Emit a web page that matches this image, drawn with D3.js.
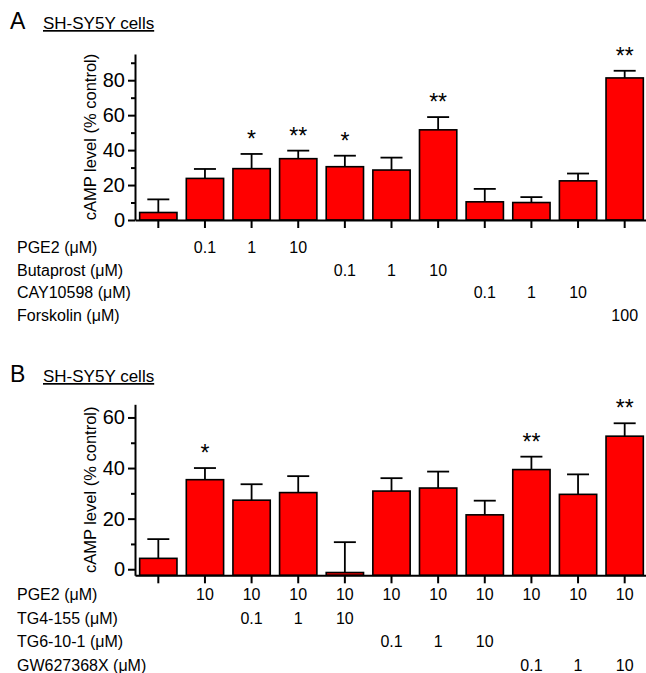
<!DOCTYPE html>
<html>
<head>
<meta charset="utf-8">
<script src="https://cdn.jsdelivr.net/npm/d3@7"></script>
<style>
  body { margin: 0; background: #fff; }
  svg { display: block; font-family: Arial, "Liberation Sans", sans-serif; }
  .axis path, .axis line { stroke: #000; stroke-width: 2; }
  .axis text { font-size: 20px; fill: #000; }
</style>
</head>
<body>
<svg id="chart" width="646" height="673"></svg>
<script>
// panel A
const drugsA = ['PGE2 (\u03bcM)', 'Butaprost (\u03bcM)', 'CAY10598 (\u03bcM)', 'Forskolin (\u03bcM)'];
const dosesA = [
  ['', '0.1', '1', '10', '', '', '', '', '', '', ''],
  ['', '', '', '', '0.1', '1', '10', '', '', '', ''],
  ['', '', '', '', '', '', '', '0.1', '1', '10', ''],
  ['', '', '', '', '', '', '', '', '', '', '100'],
];
const valuesA = [4.3, 23.8, 29.4, 35.1, 30.5, 28.6, 51.6, 10.4, 10.0, 22.4, 81.3];
const errorsA = [7.5, 5.4, 8.4, 4.6, 6.3, 7.1, 7.3, 7.4, 3.1, 4.2, 4.1];
const starsA = ['', '', '*', '**', '*', '', '**', '', '', '', '**'];
const ticksA = [0, 20, 40, 60, 80];
const minorA = [10, 30, 50, 70, 90];

// panel B
const drugsB = ['PGE2 (\u03bcM)', 'TG4-155 (\u03bcM)', 'TG6-10-1 (\u03bcM)', 'GW627368X (\u03bcM)'];
const dosesB = [
  ['', '10', '10', '10', '10', '10', '10', '10', '10', '10', '10'],
  ['', '', '0.1', '1', '10', '', '', '', '', '', ''],
  ['', '', '', '', '', '0.1', '1', '10', '', '', ''],
  ['', '', '', '', '', '', '', '', '0.1', '1', '10'],
];
const valuesB = [4.3, 35.4, 27.3, 30.3, -1.3, 30.9, 32.1, 21.5, 39.4, 29.6, 52.6];
const errorsB = [7.6, 4.6, 6.3, 6.5, 12.0, 5.1, 6.5, 5.6, 5.1, 7.9, 5.1];
const starsB = ['', '*', '', '', '', '', '', '', '**', '', '**'];
const ticksB = [0, 20, 40, 60];
const minorB = [10, 30, 50];

const svg = d3.select('#chart');

function drawPanel(p) {
  const data = p.values.map((v, i) => ({ i, v, e: p.errors[i], s: p.stars[i] }));

  const x = d3.scaleBand()
    .domain(data.map(d => d.i))
    .range([135, 648])
    .paddingInner(0.2)
    .paddingOuter(0.1);

  const y = d3.scaleLinear().domain(p.domain).range(p.range);
  const base = p.domain[0];

  // panel letter + underlined title
  svg.append('text')
    .attr('x', 10).attr('y', p.titleY)
    .style('font-size', '23px')
    .text(p.letter);
  svg.append('text')
    .attr('x', 43).attr('y', p.titleY)
    .style('font-size', '17px')
    .style('text-decoration', 'underline')
    .text('SH-SY5Y cells');

  const g = svg.append('g');

  // bars
  g.selectAll('.bar')
    .data(data)
    .enter()
    .append('rect')
    .attr('class', 'bar')
    .attr('x', d => x(d.i))
    .attr('width', x.bandwidth())
    .attr('y', d => y(Math.max(d.v, base)))
    .attr('height', d => Math.abs(y(base) - y(d.v)))
    .attr('fill', '#ff0000')
    .attr('stroke', '#000')
    .attr('stroke-width', 1.6);

  // error bars (upper only)
  const cx = d => x(d.i) + x.bandwidth() / 2;
  g.selectAll('.err')
    .data(data)
    .enter()
    .append('line')
    .attr('x1', cx).attr('x2', cx)
    .attr('y1', d => y(d.v)).attr('y2', d => y(d.v + d.e))
    .attr('stroke', '#000').attr('stroke-width', 1.8);
  g.selectAll('.cap')
    .data(data)
    .enter()
    .append('line')
    .attr('x1', d => cx(d) - 11).attr('x2', d => cx(d) + 11)
    .attr('y1', d => y(d.v + d.e)).attr('y2', d => y(d.v + d.e))
    .attr('stroke', '#000').attr('stroke-width', 1.8);

  // significance stars
  g.selectAll('.star')
    .data(data.filter(d => d.s))
    .enter()
    .append('text')
    .attr('x', cx)
    .attr('y', d => y(d.v + d.e) - 7)
    .attr('text-anchor', 'middle')
    .style('font-size', '23px')
    .text(d => d.s);

  // axes
  g.append('g')
    .attr('class', 'axis')
    .attr('transform', 'translate(0,' + y(base) + ')')
    .call(d3.axisBottom(x).tickSize(8).tickSizeOuter(0).tickFormat(''));

  g.append('g')
    .attr('class', 'axis')
    .attr('transform', 'translate(135,0)')
    .call(d3.axisLeft(y).tickValues(p.ticks).tickSize(7).tickSizeOuter(0).tickPadding(3));

  g.append('g')
    .attr('class', 'axis')
    .attr('transform', 'translate(135,0)')
    .call(d3.axisLeft(y).tickValues(p.minor).tickSize(4).tickSizeOuter(0).tickFormat(''))
    .select('.domain').remove();

  // y label
  const midY = (p.range[0] + p.range[1]) / 2;
  svg.append('text')
    .attr('transform', 'translate(96,' + midY + ') rotate(-90)')
    .attr('text-anchor', 'middle')
    .style('font-size', '16.5px')
    .text('cAMP level (% control)');

  // treatment rows
  p.drugs.forEach((name, r) => {
    const ry = p.rowY + r * p.rowStep;
    svg.append('text')
      .attr('x', 17).attr('y', ry)
      .style('font-size', '16px')
      .text(name);
    svg.selectAll(null)
      .data(p.doses[r].map((t, i) => ({ t, i })).filter(d => d.t))
      .enter()
      .append('text')
      .attr('x', d => cx(d))
      .attr('y', ry)
      .attr('text-anchor', 'middle')
      .style('font-size', '16px')
      .text(d => d.t);
  });
}

drawPanel({
  letter: 'A', titleY: 29,
  values: valuesA, errors: errorsA, stars: starsA,
  domain: [0, 95], range: [220, 54],
  ticks: ticksA, minor: minorA,
  drugs: drugsA, doses: dosesA, rowY: 253, rowStep: 22.7,
});

drawPanel({
  letter: 'B', titleY: 382,
  values: valuesB, errors: errorsB, stars: starsB,
  domain: [-2.4, 65.2], range: [575.3, 404.3],
  ticks: ticksB, minor: minorB,
  drugs: drugsB, doses: dosesB, rowY: 600, rowStep: 23.5,
});
</script>
</body>
</html>
